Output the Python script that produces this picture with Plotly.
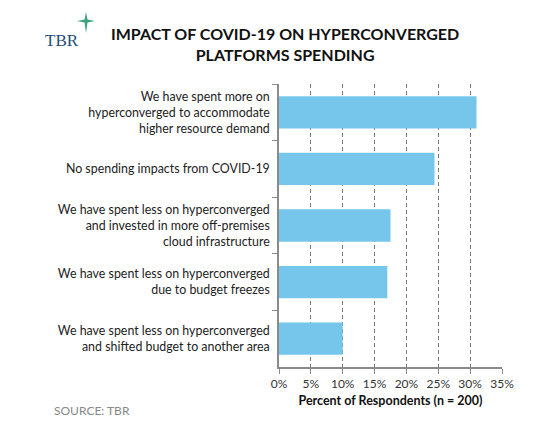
import plotly.graph_objects as go

categories = [
    "We have spent more on<br>hyperconverged to accommodate<br>higher resource demand",
    "No spending impacts from COVID-19",
    "We have spent less on hyperconverged<br>and invested in more off-premises<br>cloud infrastructure",
    "We have spent less on hyperconverged<br>due to budget freezes",
    "We have spent less on hyperconverged<br>and shifted budget to another area",
]
values = [31.0, 24.4, 17.5, 17.0, 10.0]
tick_vals = [0, 5, 10, 15, 20, 25, 30, 35]
tick_text = ["0%", "5%", "10%", "15%", "20%", "25%", "30%", "35%"]

FONT = "Lato"

fig = go.Figure(go.Bar(
    x=values, y=categories, orientation="h",
    marker=dict(color="#75C6EA", line=dict(width=0)),
    width=0.57,
))

fig.update_layout(
    width=555, height=432,
    margin=dict(l=279, r=53, t=84, b=65),
    paper_bgcolor="white", plot_bgcolor="white",
    showlegend=False,
    font=dict(family=FONT, size=11, color="#222222"),
)
fig.update_xaxes(
    range=[0, 35], tickvals=tick_vals, ticktext=tick_text,
    showgrid=True, gridcolor="#7a7a7a", griddash="4px,3px", gridwidth=1,
    showline=True, linecolor="#8a8a8a", linewidth=1.5,
    ticks="outside", ticklen=5, tickcolor="#8a8a8a",
    tickfont=dict(family=FONT, size=12, color="#333333"),
    zeroline=False,
    title=dict(text="<b>Percent of Respondents (n = 200)</b>",
               font=dict(family=FONT, size=12.5, color="#111111"), standoff=6),
)
fig.update_yaxes(
    autorange="reversed",
    showline=True, linecolor="#8a8a8a", linewidth=1.5,
    ticks="outside", ticklen=5, tickcolor="#8a8a8a", tickson="boundaries",
    tickfont=dict(family=FONT, size=12.4, color="#222222"),
    ticklabelstandoff=5,
    showgrid=False,
)

fig.add_annotation(
    text="<b>IMPACT OF COVID-19 ON HYPERCONVERGED<br>PLATFORMS SPENDING</b>",
    xref="paper", yref="paper", x=(285 - 279) / 223, y=1.0 + (84 - 44) / 283,
    xanchor="center", yanchor="middle", showarrow=False, align="center",
    font=dict(family=FONT, size=16, color="#111111"),
)
fig.add_annotation(
    text="TBR", xref="paper", yref="paper",
    x=(62 - 279) / 223, y=1.0 + (84 - 40) / 283,
    xanchor="center", yanchor="middle", showarrow=False,
    font=dict(family="Liberation Serif", size=17, color="#1F4E79"),
)
# small green four-point star of the logo
cx, cy = 86, 21
fig.add_shape(
    type="path", xref="paper", yref="paper",
    path=" ".join([
        "M", f"{(cx - 279) / 223},{1 + (84 - (cy - 9)) / 283}",
        "L", f"{(cx + 1.5 - 279) / 223},{1 + (84 - (cy - 1.5)) / 283}",
        "L", f"{(cx + 9 - 279) / 223},{1 + (84 - cy) / 283}",
        "L", f"{(cx + 1.5 - 279) / 223},{1 + (84 - (cy + 1.5)) / 283}",
        "L", f"{(cx - 279) / 223},{1 + (84 - (cy + 12)) / 283}",
        "L", f"{(cx - 1.5 - 279) / 223},{1 + (84 - (cy + 1.5)) / 283}",
        "L", f"{(cx - 9 - 279) / 223},{1 + (84 - cy) / 283}",
        "L", f"{(cx - 1.5 - 279) / 223},{1 + (84 - (cy - 1.5)) / 283}",
        "Z",
    ]),
    fillcolor="#3BA37F", line=dict(width=0),
)
fig.add_annotation(
    text="SOURCE: TBR", xref="paper", yref="paper",
    x=(52 - 279) / 223, y=-(410 - 367) / 283,
    xanchor="left", yanchor="middle", showarrow=False,
    font=dict(family=FONT, size=12, color="#888888"),
)

fig.write_html("out.html", config={"displayModeBar": False},
               post_script="document.body.style.margin='0';")
